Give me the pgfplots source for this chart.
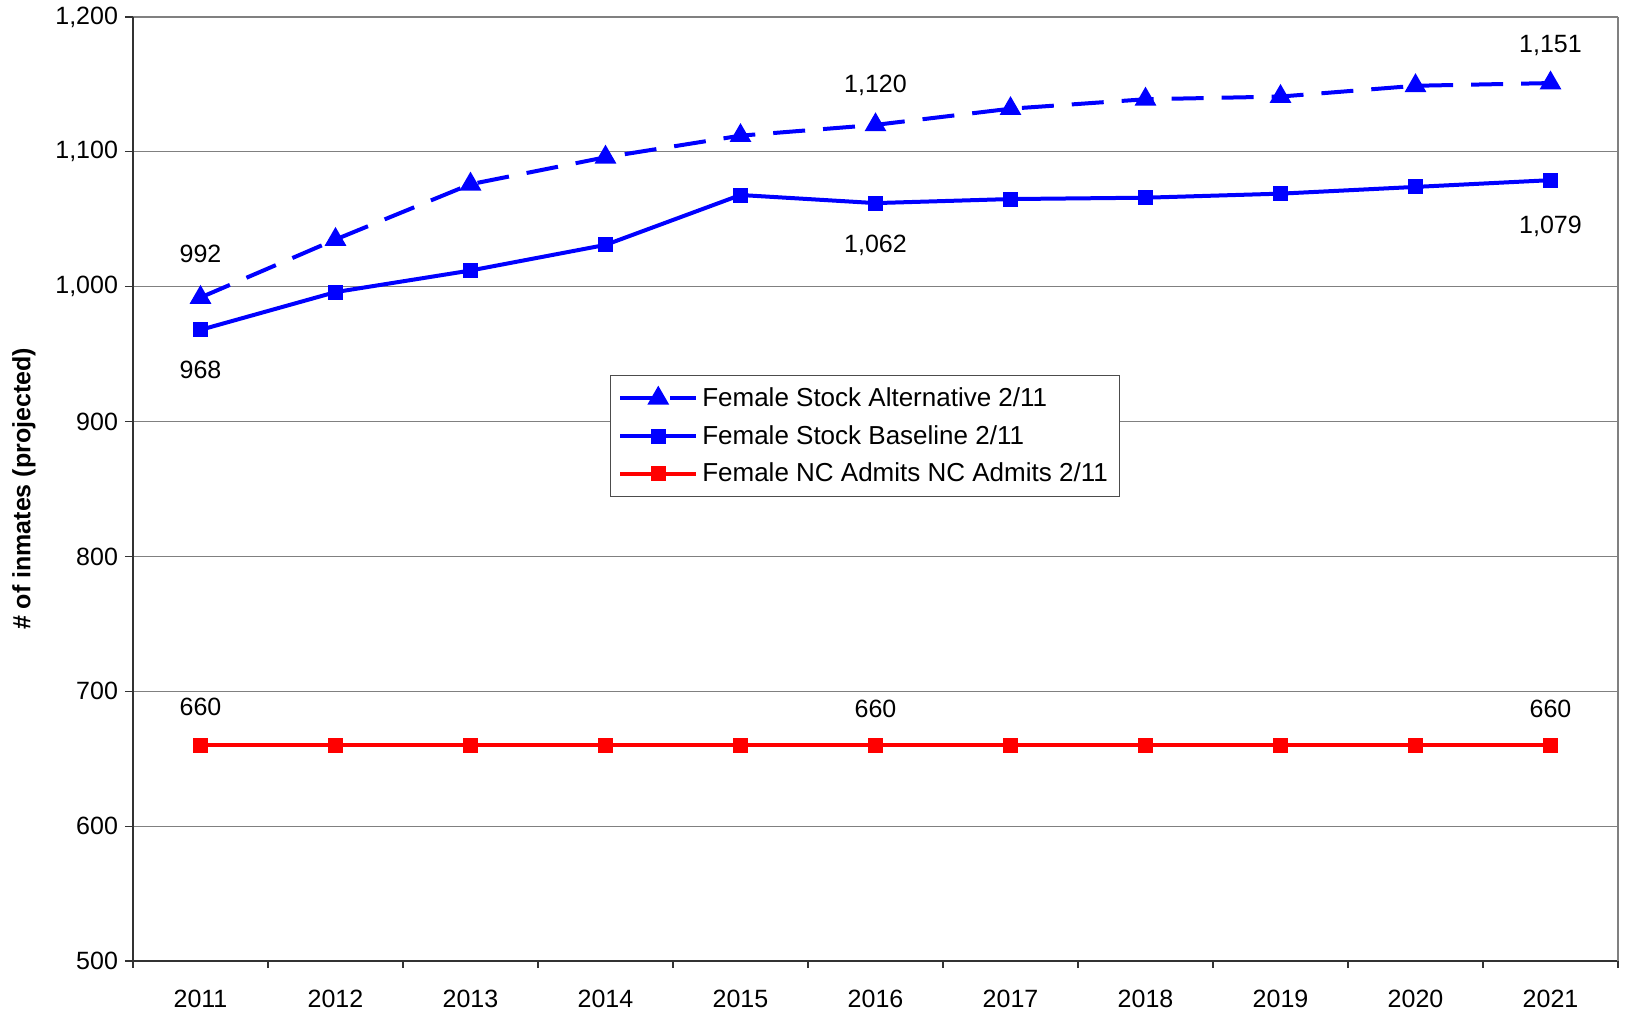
\documentclass[border=0pt]{standalone}
\usepackage{fontspec}
\setmainfont{Liberation Sans}
\usepackage{pgfplots}
\pgfplotsset{compat=1.18}

\definecolor{ser_blue}{RGB}{0,0,255}
\definecolor{ser_red}{RGB}{255,0,0}

\begin{document}
\begin{tikzpicture}
\begin{axis}[
    name=ax,
    scale only axis,
    width=742.5pt, height=472pt,
    font=\fontsize{12.5}{15}\selectfont,
    xmin=-0.5, xmax=10.5,
    ymin=500, ymax=1200,
    ytick={500,600,...,1200},
    xtick={0,...,10},
    xticklabels={2011,2012,2013,2014,2015,2016,2017,2018,2019,2020,2021},
    minor xtick={-0.5,0.5,...,10.5},
    major x tick style={draw=none},
    minor tick length=3.5pt,
    major tick length=4pt,
    tick align=outside,
    xtick pos=bottom, ytick pos=left,
    axis x line*=bottom, axis y line*=left,
    axis line style={black!80, line width=0.8pt},
    tick style={black!80, line width=0.6pt},
    ymajorgrids,
    grid style={gray, line width=0.6pt},
    /pgf/number format/1000 sep={,},
    /pgf/number format/assume math mode=true,
    ylabel={\bfseries \# of inmates (projected)},
    ylabel style={yshift=3pt},
    xticklabel style={yshift=-7pt},
    legend style={at={(rel axis cs:0.321,0.621)}, anchor=north west,
        draw=black!70, line width=0.6pt, inner sep=4pt,
        row sep=4pt, font=\fontsize{13}{15}\selectfont},
    legend cell align=left,
    legend image code/.code={
        \draw[#1] (0pt,0pt) -- (19pt,0pt) -- (38pt,0pt);
        \draw[#1,only marks] plot coordinates {(19pt,0pt)};
    },
]
\addplot[ser_blue, line width=2pt, dash pattern=on 16pt off 9pt,
    mark=triangle*, mark size=4.3pt, mark options={solid}]
coordinates {(0,992) (1,1035) (2,1076) (3,1096) (4,1112) (5,1120)
    (6,1132) (7,1139) (8,1141) (9,1149) (10,1151)};
\addlegendentry{Female Stock Alternative 2/11}
\addplot[ser_blue, line width=2pt, mark=square*, mark size=2.75pt]
coordinates {(0,968) (1,996) (2,1012) (3,1031) (4,1068) (5,1062)
    (6,1065) (7,1066) (8,1069) (9,1074) (10,1079)};
\addlegendentry{Female Stock Baseline 2/11}
\addplot[ser_red, line width=2pt, mark=square*, mark size=2.75pt]
coordinates {(0,660) (1,660) (2,660) (3,660) (4,660) (5,660)
    (6,660) (7,660) (8,660) (9,660) (10,660)};
\addlegendentry{Female NC Admits NC Admits 2/11}

\node[yshift=22pt] at (axis cs:0,992) {992};
\node[yshift=-20pt] at (axis cs:0,968) {968};
\node[yshift=20pt] at (axis cs:5,1120) {1,120};
\node[yshift=-21pt] at (axis cs:5,1062) {1,062};
\node[yshift=19pt] at (axis cs:10,1151) {1,151};
\node[yshift=-23pt] at (axis cs:10,1079) {1,079};
\node[yshift=19pt] at (axis cs:0,660) {660};
\node[yshift=18pt] at (axis cs:5,660) {660};
\node[yshift=18pt] at (axis cs:10,660) {660};
\end{axis}
\draw[gray, line width=0.6pt] (ax.south east) -- (ax.north east);
\pgfresetboundingbox
\path[use as bounding box] ([shift={(-66.5pt,-26pt)}]ax.south west)
    rectangle ([shift={(4.5pt,8.5pt)}]ax.north east);
\end{tikzpicture}
\end{document}
